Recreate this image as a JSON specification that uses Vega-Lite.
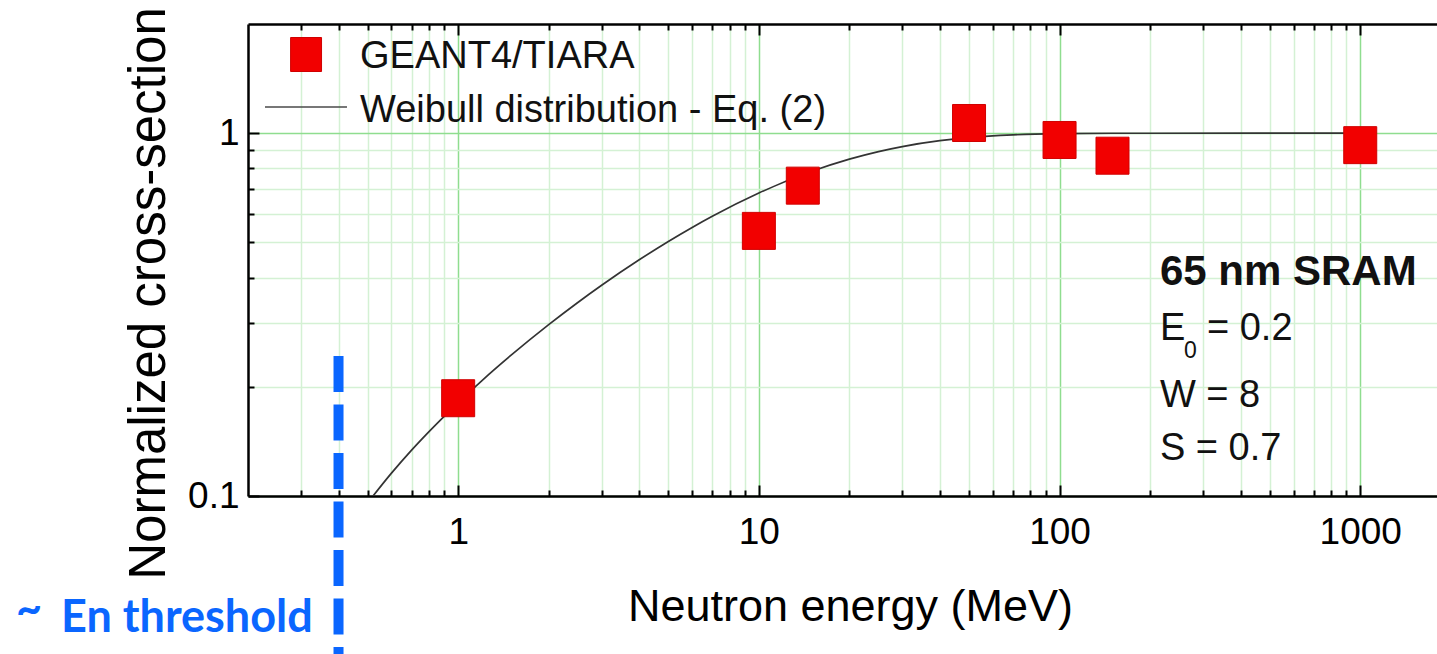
{
  "$schema": "https://vega.github.io/schema/vega-lite/v6.json",
  "width": 1189,
  "height": 472,
  "autosize": "none",
  "padding": {"left": 248, "top": 24, "right": 0, "bottom": 158},
  "background": "white",
  "config": {"view": {"stroke": null}, "font": "Liberation Sans"},
  "datasets": {
    "points": [
      {"E": 1, "v": 0.186},
      {"E": 10, "v": 0.538},
      {"E": 14, "v": 0.717},
      {"E": 50, "v": 1.067},
      {"E": 100, "v": 0.958},
      {"E": 150, "v": 0.867},
      {"E": 1000, "v": 0.927}
    ],
    "curve": [
      {"E": 0.52, "v": 0.0998},
      {"E": 0.6, "v": 0.1156},
      {"E": 0.7, "v": 0.1338},
      {"E": 0.8, "v": 0.1505},
      {"E": 0.9, "v": 0.1661},
      {"E": 1, "v": 0.1809},
      {"E": 1.2, "v": 0.2081},
      {"E": 1.5, "v": 0.2444},
      {"E": 2, "v": 0.2967},
      {"E": 2.5, "v": 0.3416},
      {"E": 3, "v": 0.381},
      {"E": 4, "v": 0.4478},
      {"E": 5, "v": 0.5031},
      {"E": 6, "v": 0.55},
      {"E": 7, "v": 0.5904},
      {"E": 10, "v": 0.6842},
      {"E": 15, "v": 0.7853},
      {"E": 20, "v": 0.8483},
      {"E": 25, "v": 0.8901},
      {"E": 30, "v": 0.9188},
      {"E": 40, "v": 0.9538},
      {"E": 50, "v": 0.9726},
      {"E": 70, "v": 0.9895},
      {"E": 100, "v": 0.9971},
      {"E": 150, "v": 0.9996},
      {"E": 200, "v": 0.9999},
      {"E": 1000, "v": 1.0}
    ],
    "legendsym": [{"E": 0.312, "v": 1.648}],
    "legendline": [{"E": 0.2278, "E2": 0.4268, "v": 1.1806}],
    "threshold": [{"E": 0.4, "v": 0.2432, "v2": 0.0353}],
    "notes": [
      {"kind": "leg", "E": 0.4716, "v": 1.512, "label": "GEANT4/TIARA"},
      {"kind": "leg", "E": 0.4716, "v": 1.0738, "label": "Weibull distribution - Eq. (2)"},
      {"kind": "title", "E": 215.7, "v": 0.3817, "label": "65 nm SRAM"},
      {"kind": "param", "E": 215.7, "v": 0.2692, "label": "E"},
      {"kind": "param", "E": 309.2, "v": 0.2692, "label": "= 0.2"},
      {"kind": "param", "E": 215.7, "v": 0.1759, "label": "W = 8"},
      {"kind": "param", "E": 215.7, "v": 0.1257, "label": "S = 0.7"},
      {"kind": "sub", "E": 259.3, "v": 0.2402, "label": "0"},
      {"kind": "blue", "E": 0.03385, "v": 0.0445, "label": "~"},
      {"kind": "blue", "E": 0.0478, "v": 0.04218, "label": "En threshold"}
    ]
  },
  "resolve": {"axis": {"x": "independent", "y": "independent"}},
  "layer": [
    {
      "data": {"name": "curve"},
      "mark": {"type": "line", "color": "#333333", "strokeWidth": 1.7, "interpolate": "monotone", "clip": true},
      "encoding": {
        "x": {
          "field": "E", "type": "quantitative",
          "scale": {"type": "log", "domain": [0.2, 1800], "nice": false},
          "axis": {
            "orient": "bottom",
            "values": [1, 10, 100, 1000],
            "grid": true,
            "gridColor": "#8fdd8f",
            "gridWidth": 1.5,
            "ticks": false,
            "domainColor": "#000",
            "domainWidth": 2.5,
            "format": "d",
            "labelFont": "Liberation Sans",
            "labelFontSize": 37,
            "labelColor": "#000",
            "labelPadding": 47,
            "labelBaseline": "alphabetic",
            "labelOverlap": false,
            "labelFlush": false,
            "labelBound": false,
            "title": "Neutron energy (MeV)",
            "titleFont": "Liberation Sans",
            "titleFontSize": 45,
            "titleFontWeight": "normal",
            "titleColor": "#000",
            "titleX": 602,
            "titleY": 124,
            "titleAlign": "center",
            "titleBaseline": "alphabetic"
          }
        },
        "y": {
          "field": "v", "type": "quantitative",
          "scale": {"type": "log", "domain": [0.1, 2], "nice": false},
          "axis": {
            "orient": "left",
            "values": [0.1, 1],
            "grid": true,
            "gridColor": "#8fdd8f",
            "gridWidth": 1.5,
            "ticks": false,
            "domainColor": "#000",
            "domainWidth": 2.5,
            "labelExpr": "datum.value == 1 ? '1' : '0.1'",
            "labelFont": "Liberation Sans",
            "labelFontSize": 37,
            "labelColor": "#000",
            "labelPadding": 9,
            "labelBaseline": "middle",
            "labelOverlap": false,
            "labelFlush": false,
            "labelBound": false,
            "title": "Normalized cross-section",
            "titleFont": "Liberation Sans",
            "titleFontSize": 51,
            "titleFontWeight": "normal",
            "titleColor": "#000",
            "titleAngle": -90,
            "titleX": -84,
            "titleY": 269,
            "titleAlign": "center",
            "titleBaseline": "alphabetic"
          }
        }
      }
    },
    {
      "data": {"name": "threshold"},
      "mark": {"type": "rule", "color": "#0a66ff", "strokeWidth": 10, "strokeDash": [36, 12.5], "clip": false},
      "encoding": {
        "x": {
          "field": "E", "type": "quantitative",
          "scale": {"type": "log", "domain": [0.2, 1800], "nice": false},
          "axis": {
            "orient": "bottom",
            "values": [0.3,0.4,0.5,0.6,0.7,0.8,0.9,2,3,4,5,6,7,8,9,20,30,40,50,60,70,80,90,200,300,400,500,600,700,800,900],
            "grid": true,
            "gridColor": "#d4f1d4",
            "gridWidth": 1.5,
            "ticks": false,
            "domain": false,
            "labels": false,
            "title": null
          }
        },
        "y": {
          "field": "v", "type": "quantitative",
          "scale": {"type": "log", "domain": [0.1, 2], "nice": false},
          "axis": {
            "orient": "left",
            "values": [0.2,0.3,0.4,0.5,0.6,0.7,0.8,0.9],
            "grid": true,
            "gridColor": "#d4f1d4",
            "gridWidth": 1.5,
            "ticks": false,
            "domain": false,
            "labels": false,
            "title": null
          }
        },
        "y2": {"field": "v2"}
      }
    },
    {
      "data": {"name": "points"},
      "mark": {"type": "point", "shape": "M-0.892,-1L0.892,-1L0.892,1L-0.892,1Z", "size": 1369, "filled": true, "fill": "#f20000", "stroke": "#d00000", "strokeWidth": 1, "opacity": 1},
      "encoding": {
        "x": {
          "field": "E", "type": "quantitative",
          "scale": {"type": "log", "domain": [0.2, 1800], "nice": false},
          "axis": {
            "orient": "bottom",
            "offset": -472,
            "values": [1, 10, 100, 1000],
            "grid": false,
            "labels": false,
            "title": null,
            "ticks": true,
            "tickSize": 11,
            "tickColor": "#000",
            "tickWidth": 2,
            "domain": true,
            "domainColor": "#000",
            "domainWidth": 2.5
          }
        },
        "y": {
          "field": "v", "type": "quantitative",
          "scale": {"type": "log", "domain": [0.1, 2], "nice": false},
          "axis": {
            "orient": "right",
            "offset": -1189,
            "values": [0.1, 1],
            "grid": false,
            "labels": false,
            "title": null,
            "ticks": true,
            "tickSize": 11,
            "tickColor": "#000",
            "tickWidth": 2,
            "domain": false
          }
        }
      }
    },
    {
      "data": {"name": "legendsym"},
      "mark": {"type": "point", "shape": "M-0.91,-1L0.91,-1L0.91,1L-0.91,1Z", "size": 1156, "filled": true, "fill": "#f20000", "stroke": "#d00000", "strokeWidth": 1, "opacity": 1, "clip": false},
      "encoding": {
        "x": {
          "field": "E", "type": "quantitative",
          "axis": {
            "orient": "bottom",
            "offset": -472,
            "values": [0.3,0.4,0.5,0.6,0.7,0.8,0.9,2,3,4,5,6,7,8,9,20,30,40,50,60,70,80,90,200,300,400,500,600,700,800,900],
            "grid": false,
            "labels": false,
            "title": null,
            "ticks": true,
            "tickSize": 6,
            "tickColor": "#000",
            "tickWidth": 2,
            "domain": false
          }
        },
        "y": {
          "field": "v", "type": "quantitative",
          "axis": {
            "orient": "right",
            "offset": -1189,
            "values": [0.2,0.3,0.4,0.5,0.6,0.7,0.8,0.9],
            "grid": false,
            "labels": false,
            "title": null,
            "ticks": true,
            "tickSize": 6,
            "tickColor": "#000",
            "tickWidth": 2,
            "domain": false
          }
        }
      }
    },
    {
      "data": {"name": "legendline"},
      "mark": {"type": "rule", "color": "#4a4a4a", "strokeWidth": 1.5},
      "encoding": {
        "x": {
          "field": "E", "type": "quantitative",
          "axis": {
            "orient": "top",
            "offset": -472,
            "values": [1, 10, 100, 1000],
            "grid": false,
            "labels": false,
            "title": null,
            "ticks": true,
            "tickSize": 11,
            "tickColor": "#000",
            "tickWidth": 2,
            "domain": false
          }
        },
        "x2": {"field": "E2"},
        "y": {"field": "v", "type": "quantitative", "axis": null}
      }
    },
    {
      "data": {"name": "notes"},
      "transform": [{"filter": "datum.kind == 'leg'"}],
      "mark": {"type": "text", "align": "left", "baseline": "alphabetic", "font": "Liberation Sans", "fontSize": 38, "color": "#111"},
      "encoding": {
        "x": {
          "field": "E", "type": "quantitative",
          "axis": {
            "orient": "top",
            "offset": -472,
            "values": [0.3,0.4,0.5,0.6,0.7,0.8,0.9,2,3,4,5,6,7,8,9,20,30,40,50,60,70,80,90,200,300,400,500,600,700,800,900],
            "grid": false,
            "labels": false,
            "title": null,
            "ticks": true,
            "tickSize": 6,
            "tickColor": "#000",
            "tickWidth": 2,
            "domain": false
          }
        },
        "y": {"field": "v", "type": "quantitative", "axis": null},
        "text": {"field": "label"}
      }
    },
    {
      "data": {"name": "notes"},
      "transform": [{"filter": "datum.kind == 'title'"}],
      "mark": {"type": "text", "align": "left", "baseline": "alphabetic", "font": "Liberation Sans", "fontSize": 42, "fontWeight": "bold", "color": "#111"},
      "encoding": {
        "x": {"field": "E", "type": "quantitative", "axis": null},
        "y": {"field": "v", "type": "quantitative", "axis": null},
        "text": {"field": "label"}
      }
    },
    {
      "data": {"name": "notes"},
      "transform": [{"filter": "datum.kind == 'param'"}],
      "mark": {"type": "text", "align": "left", "baseline": "alphabetic", "font": "Liberation Sans", "fontSize": 38, "color": "#111"},
      "encoding": {
        "x": {"field": "E", "type": "quantitative", "axis": null},
        "y": {"field": "v", "type": "quantitative", "axis": null},
        "text": {"field": "label"}
      }
    },
    {
      "data": {"name": "notes"},
      "transform": [{"filter": "datum.kind == 'sub'"}],
      "mark": {"type": "text", "align": "left", "baseline": "alphabetic", "font": "Liberation Sans", "fontSize": 23, "color": "#111"},
      "encoding": {
        "x": {"field": "E", "type": "quantitative", "axis": null},
        "y": {"field": "v", "type": "quantitative", "axis": null},
        "text": {"field": "label"}
      }
    },
    {
      "data": {"name": "notes"},
      "transform": [{"filter": "datum.kind == 'blue'"}],
      "mark": {"type": "text", "align": "left", "baseline": "alphabetic", "font": "Lato", "fontSize": 45, "fontWeight": "bold", "color": "#0a66ff", "clip": false},
      "encoding": {
        "x": {"field": "E", "type": "quantitative", "axis": null},
        "y": {"field": "v", "type": "quantitative", "axis": null},
        "text": {"field": "label"}
      }
    }
  ]
}
